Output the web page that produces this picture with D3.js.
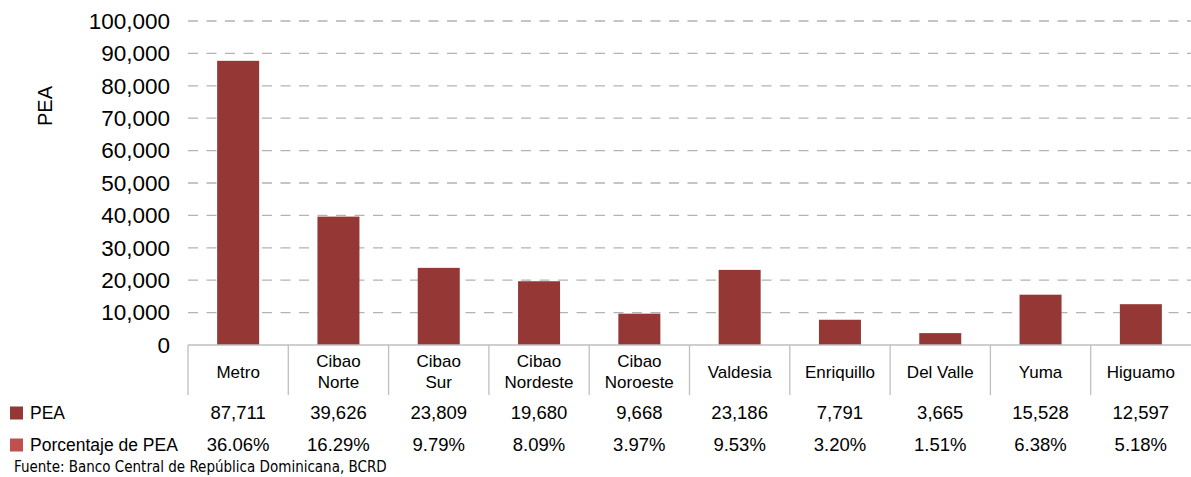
<!DOCTYPE html>
<html>
<head>
<meta charset="utf-8">
<script src="https://cdn.jsdelivr.net/npm/d3@7"></script>
<style>
  body { margin: 0; background: #fff; }
  svg { display: block; font-family: "Liberation Sans", Arial, sans-serif; }
</style>
</head>
<body>
<svg id="chart" width="1191" height="477"></svg>
<script>
const regions = ["Metro", "Cibao Norte", "Cibao Sur", "Cibao Nordeste", "Cibao Noroeste",
                 "Valdesia", "Enriquillo", "Del Valle", "Yuma", "Higuamo"];
const pea = [87711, 39626, 23809, 19680, 9668, 23186, 7791, 3665, 15528, 12597];
const peaPct = ["36.06%", "16.29%", "9.79%", "8.09%", "3.97%", "9.53%", "3.20%", "1.51%", "6.38%", "5.18%"];
const yTicks = [0, 10000, 20000, 30000, 40000, 50000, 60000, 70000, 80000, 90000, 100000];

const svg = d3.select("#chart");
const plotL = 188, plotR = 1191, plotT = 21, plotB = 345;

const x = d3.scaleBand().domain(regions).range([plotL, plotR]).paddingInner(0).paddingOuter(0);
const y = d3.scaleLinear().domain([0, 100000]).range([plotB, plotT]);
const fmt = d3.format(",");

// grid lines
svg.append("g").selectAll("line")
  .data(yTicks.filter(d => d > 0))
  .enter().append("line")
  .attr("x1", plotL).attr("x2", plotR)
  .attr("y1", d => y(d)).attr("y2", d => y(d))
  .attr("stroke", "#b3b3b3").attr("stroke-width", 1.3)
  .attr("stroke-dasharray", "10,8.5");

// y tick labels
svg.append("g").selectAll("text")
  .data(yTicks)
  .enter().append("text")
  .attr("x", 170).attr("y", d => y(d))
  .attr("dy", "0.35em")
  .attr("text-anchor", "end")
  .attr("font-size", 22.5).attr("fill", "#000")
  .text(d => fmt(d));

svg.append("text")
  .attr("transform", "translate(52,106) rotate(-90)")
  .attr("text-anchor", "middle")
  .attr("font-size", 20)
  .text("PEA");

// bars
const barW = 42;
svg.append("g").selectAll("rect")
  .data(regions)
  .enter().append("rect")
  .attr("x", d => x(d) + x.bandwidth() / 2 - barW / 2)
  .attr("y", (d, i) => y(pea[i]))
  .attr("width", barW)
  .attr("height", (d, i) => plotB - y(pea[i]))
  .attr("fill", "#953735");

// axis line and table separators
svg.append("line")
  .attr("x1", plotL).attr("x2", plotR).attr("y1", plotB).attr("y2", plotB)
  .attr("stroke", "#bfbfbf").attr("stroke-width", 1.3);
svg.append("g").selectAll("line")
  .data(regions.map(d => x(d)))
  .enter().append("line")
  .attr("x1", d => d).attr("x2", d => d)
  .attr("y1", plotB).attr("y2", 395)
  .attr("stroke", "#bfbfbf").attr("stroke-width", 1.3);

// category labels
svg.append("g").selectAll("text")
  .data(regions)
  .enter().append("text")
  .attr("text-anchor", "middle")
  .attr("font-size", 17).attr("fill", "#000")
  .each(function(d) {
    const words = d === "Del Valle" ? [d] : d.split(" ");
    const cx = x(d) + x.bandwidth() / 2;
    const t = d3.select(this);
    const y0 = words.length === 1 ? 372 : 361;
    words.forEach((w, i) => {
      t.append("tspan").attr("x", cx).attr("y", y0 + i * 21).attr("dy", "0.35em").text(w);
    });
  });

// data table rows
const rows = [
  { label: "PEA", color: "#953735", vals: pea.map(fmt), y: 413 },
  { label: "Porcentaje de PEA", color: "#c0504d", vals: peaPct, y: 445 }
];
rows.forEach(r => {
  svg.append("rect").attr("x", 10).attr("y", r.y - 6.5).attr("width", 13).attr("height", 13).attr("fill", r.color);
  svg.append("text").attr("x", 30).attr("y", r.y).attr("dy", "0.35em")
    .attr("font-size", 17.5).text(r.label);
  svg.append("g").selectAll("text")
    .data(r.vals)
    .enter().append("text")
    .attr("x", (d, i) => x(regions[i]) + x.bandwidth() / 2)
    .attr("y", r.y).attr("dy", "0.35em")
    .attr("text-anchor", "middle")
    .attr("font-size", 18.5)
    .text(d => d);
});

svg.append("text")
  .attr("x", 14).attr("y", 472)
  .attr("font-family", "'Liberation Sans Narrow', 'DejaVu Sans Condensed', sans-serif")
  .attr("font-size", 15)
  .text("Fuente: Banco Central de República Dominicana, BCRD");
</script>
</body>
</html>
